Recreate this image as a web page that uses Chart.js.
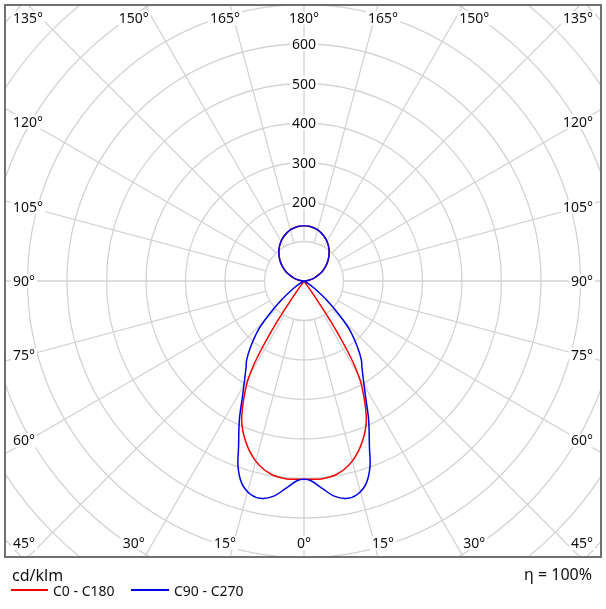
<!DOCTYPE html>
<html><head><meta charset="utf-8">
<script src="https://cdn.jsdelivr.net/npm/chart.js@4/dist/chart.umd.min.js"></script>
<style>html,body{margin:0;padding:0;background:#fff;}canvas{display:block;}</style>
</head><body>
<canvas id="c" width="606" height="609"></canvas>
<script>
// ---- data (angles in degrees measured from nadir 0° to zenith 180°, values in cd/klm) ----
const seriesNames = ['C0 - C180', 'C90 - C270'];
const seriesColors = ['#f00000', '#0000e6'];

const redAngles = [0, 5, 8, 10, 12, 15, 18, 20, 22, 24, 26, 28, 29, 30, 31, 32, 33, 34, 35, 36, 90,
  95, 100, 105, 110, 115, 120, 125, 130, 135, 140, 145, 150, 155, 160, 165, 170, 175, 180];
const redValues = [502, 503, 500, 495, 488, 472, 450, 432, 412, 388, 355, 318, 300, 275, 245, 200, 150, 90, 35, 0, 0,
  5, 14, 24, 34, 46, 57, 68, 79, 89, 99, 108, 116, 123, 129, 134, 137, 139, 140];

const blueAngles = [0, 2, 5, 8, 11, 14, 17, 19.5, 21.5, 25, 28, 31, 34, 36, 39, 43, 46, 50, 55, 60, 65, 90,
  95, 100, 105, 110, 115, 120, 125, 130, 135, 140, 145, 150, 155, 160, 165, 170, 175, 180];
const blueValues = [502, 506, 527, 550, 561, 557, 537, 500, 452, 387, 332, 292, 262, 247, 215, 170, 125, 74, 30, 8, 0, 0,
  5, 14, 24, 34, 46, 57, 68, 79, 89, 99, 108, 116, 123, 129, 134, 137, 139, 140];

const ringValues = [100, 200, 300, 400, 500, 600, 700, 800, 900, 1000, 1100];
const ringLabels = [200, 300, 400, 500, 600];
const angleTicks = [0, 15, 30, 45, 60, 75, 90, 105, 120, 135, 150, 165, 180];
const unitLabel = 'cd/klm';
const efficiencyLabel = 'η = 100%';

// ---- helpers ----
function toPoints(angles, values) {
  const pts = [];
  for (let i = angles.length - 1; i >= 0; i--) {
    const t = angles[i] * Math.PI / 180;
    pts.push({ x: -values[i] * Math.sin(t), y: -values[i] * Math.cos(t) });
  }
  for (let i = 1; i < angles.length; i++) {
    const t = angles[i] * Math.PI / 180;
    pts.push({ x: values[i] * Math.sin(t), y: -values[i] * Math.cos(t) });
  }
  return pts;
}

const PX_PER_CD = 0.395;
const FONT = '"Noto Sans", "DejaVu Sans", sans-serif';

const polarPlugin = {
  id: 'polarGrid',
  beforeDatasetsDraw(chart) {
    const { ctx, chartArea: a, scales: { x, y } } = chart;
    const cx = x.getPixelForValue(0), cy = y.getPixelForValue(0);
    const k = (x.getPixelForValue(100) - cx) / 100;
    ctx.save();
    ctx.beginPath();
    ctx.rect(a.left, a.top, a.right - a.left, a.bottom - a.top);
    ctx.clip();
    ctx.strokeStyle = '#d3d3d3';
    ctx.lineWidth = 1.3;
    ringValues.forEach(r => {
      ctx.beginPath(); ctx.arc(cx, cy, r * k, 0, Math.PI * 2); ctx.stroke();
    });
    const r0 = ringValues[0] * k, r1 = 3000 * k;
    for (let g = 0; g < 360; g += 15) {
      const t = g * Math.PI / 180;
      ctx.beginPath();
      ctx.moveTo(cx + r0 * Math.sin(t), cy + r0 * Math.cos(t));
      ctx.lineTo(cx + r1 * Math.sin(t), cy + r1 * Math.cos(t));
      ctx.stroke();
    }
    // ring labels
    ctx.font = '14px ' + FONT;
    ctx.textAlign = 'center';
    ctx.textBaseline = 'alphabetic';
    ringLabels.forEach(v => {
      const py = cy - v * k;
      const s = String(v);
      const w = ctx.measureText(s).width;
      ctx.fillStyle = '#fff';
      ctx.fillRect(cx - w / 2 - 2, py - 7, w + 4, 14);
      ctx.fillStyle = '#111';
      ctx.fillText(s, cx, py + 5);
    });
    // angle labels
    const topY = a.top + 13, botY = a.bottom - 14;
    const leftX = a.left + 8, rightX = a.right - 8;
    const halfW = 295, halfH = 276;
    function label(text, px, py, align) {
      ctx.textAlign = align;
      const w = ctx.measureText(text).width;
      let x0 = align === 'center' ? px - w / 2 : (align === 'left' ? px : px - w);
      ctx.fillStyle = '#fff';
      ctx.fillRect(x0 - 2, py - 7, w + 4, 14);
      ctx.fillStyle = '#111';
      ctx.fillText(text, px, py + 5);
    }
    angleTicks.forEach(g => {
      const text = g + '°';
      [-1, 1].forEach(s => {
        if ((g === 0 || g === 180) && s === 1) return;
        let px, py, align;
        if (g === 0) { px = cx; py = botY; align = 'center'; }
        else if (g === 180) { px = cx; py = topY; align = 'center'; }
        else if (g < 45) { px = cx + s * halfW * Math.tan(g * Math.PI / 180); py = botY; align = 'center'; }
        else if (g > 135) { px = cx + s * halfW * Math.tan((180 - g) * Math.PI / 180); py = topY; align = 'center'; }
        else {
          align = s < 0 ? 'left' : 'right';
          px = s < 0 ? leftX : rightX;
          if (g === 45) py = botY;
          else if (g === 135) py = topY;
          else py = cy + halfH * Math.tan((90 - g) * Math.PI / 180);
        }
        label(text, px, py, align);
      });
    });
    ctx.restore();
  },
  afterDraw(chart) {
    const { ctx, chartArea: a } = chart;
    ctx.save();
    ctx.strokeStyle = '#707070';
    ctx.lineWidth = 2;
    ctx.strokeRect(a.left, a.top, a.right - a.left, a.bottom - a.top);
    ctx.fillStyle = '#111';
    ctx.font = '16px ' + FONT;
    ctx.textBaseline = 'alphabetic';
    ctx.textAlign = 'left';
    ctx.fillText(unitLabel, 12, 581);
    ctx.textAlign = 'right';
    ctx.fillText(efficiencyLabel, 592, 580);
    // legend
    ctx.font = '14px ' + FONT;
    ctx.textAlign = 'left';
    const items = [[11, 48, 53], [131, 169, 174]];
    chart.data.datasets.forEach((ds, i) => {
      const [l0, l1, tx] = items[i];
      ctx.strokeStyle = ds.borderColor;
      ctx.lineWidth = 2;
      ctx.beginPath(); ctx.moveTo(l0, 590); ctx.lineTo(l1, 590); ctx.stroke();
      ctx.fillStyle = '#111';
      ctx.fillText(ds.label, tx, 596);
    });
    ctx.restore();
  }
};

new Chart(document.getElementById('c'), {
  type: 'scatter',
  data: {
    datasets: [
      { label: seriesNames[0], data: toPoints(redAngles, redValues), borderColor: seriesColors[0], showLine: true, pointRadius: 0, borderWidth: 1.5, tension: 0.35, fill: false, order: 2 },
      { label: seriesNames[1], data: toPoints(blueAngles, blueValues), borderColor: seriesColors[1], showLine: true, pointRadius: 0, borderWidth: 1.5, tension: 0.35, fill: false, order: 1 }
    ]
  },
  options: {
    responsive: false,
    animation: false,
    layout: { padding: { left: 5, top: 5, right: 5, bottom: 52 } },
    plugins: { legend: { display: false }, tooltip: { enabled: false } },
    scales: {
      x: { type: 'linear', min: -299 / PX_PER_CD, max: 297 / PX_PER_CD, display: false },
      y: { type: 'linear', min: -276 / PX_PER_CD, max: 276 / PX_PER_CD, display: false }
    }
  },
  plugins: [polarPlugin]
});
</script>
</body></html>
